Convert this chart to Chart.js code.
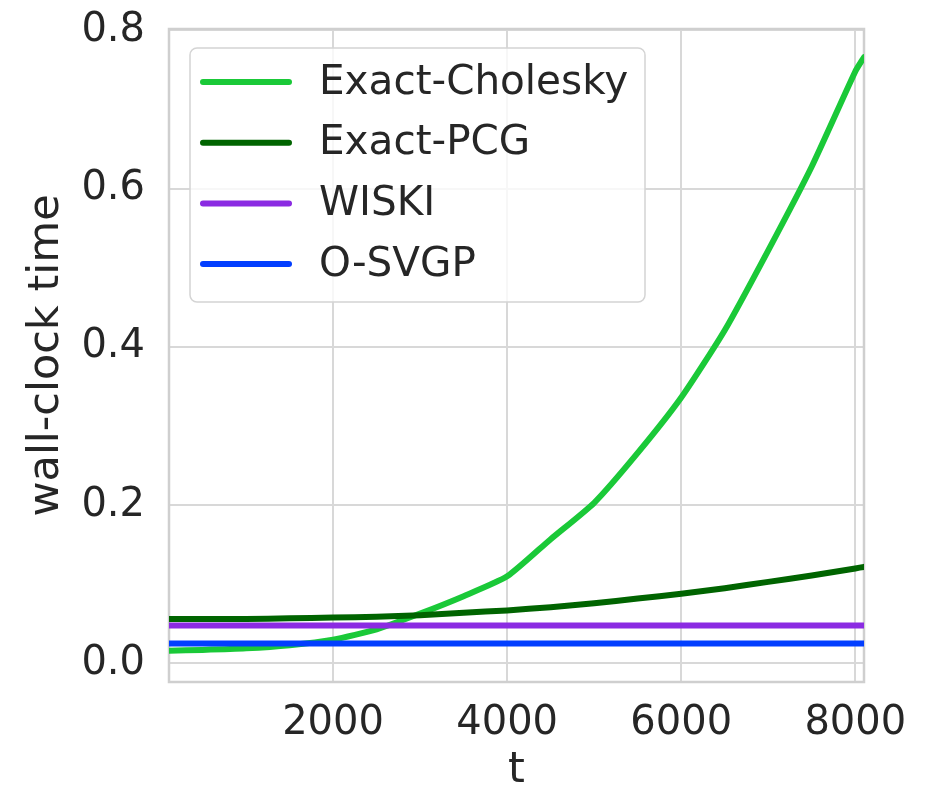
<!DOCTYPE html>
<html>
<head>
<meta charset="utf-8">
<script src="https://cdn.jsdelivr.net/npm/chart.js@4.4.1/dist/chart.umd.min.js"></script>
<style>
  body { margin: 0; background: #fff; }
  #wrap { width: 928px; height: 785px; }
</style>
</head>
<body>
<div id="wrap"><canvas id="timeChart" width="928" height="785"></canvas></div>
<script>
// time steps t
const steps = [115, 500, 1000, 1500, 2000, 2500, 3000, 3500, 4000, 4500, 5000, 5500, 6000, 6500, 7000, 7500, 8000, 8100];

// wall-clock time per method
const exactCholesky = [0.016, 0.017, 0.019, 0.023, 0.030, 0.043, 0.063, 0.085, 0.110, 0.157, 0.203, 0.266, 0.336, 0.421, 0.522, 0.628, 0.748, 0.766];
const exactPCG      = [0.056, 0.056, 0.056, 0.057, 0.058, 0.059, 0.061, 0.064, 0.067, 0.071, 0.076, 0.082, 0.088, 0.095, 0.103, 0.111, 0.120, 0.122];
const wiski         = [0.048, 0.048, 0.048, 0.048, 0.048, 0.048, 0.048, 0.048, 0.048, 0.048, 0.048, 0.048, 0.048, 0.048, 0.048, 0.048, 0.048, 0.048];
const oSvgp         = [0.025, 0.025, 0.025, 0.025, 0.025, 0.025, 0.025, 0.025, 0.025, 0.025, 0.025, 0.025, 0.025, 0.025, 0.025, 0.025, 0.025, 0.025];

const xTicks = [2000, 4000, 6000, 8000];
const yTicks = [0.0, 0.2, 0.4, 0.6, 0.8];

const seriesNames  = ['Exact-Cholesky', 'Exact-PCG', 'WISKI', 'O-SVGP'];
const seriesColors = ['#1AC938', '#006400', '#8B2BE2', '#023EFF'];
const seriesData   = [exactCholesky, exactPCG, wiski, oSvgp];

const textColor = '#262626';
const gridColor = '#d8d8d8';
const fontFamily = '"DejaVu Sans", sans-serif';

function toPoints(ys) {
  return steps.map((t, i) => ({ x: t, y: ys[i] }));
}

const datasets = seriesNames.map((name, i) => ({
  label: name,
  data: toPoints(seriesData[i]),
  borderColor: seriesColors[i],
  backgroundColor: seriesColors[i],
  borderWidth: 6,
  borderCapStyle: 'round',
  borderJoinStyle: 'round',
  pointRadius: 0,
  tension: 0.2,
  order: seriesNames.length - i   // first series sits at the bottom
}));

// frame around the plot area, like the axes spines
const framePlugin = {
  id: 'frame',
  beforeDatasetsDraw(chart) {
    const { ctx, chartArea: a } = chart;
    ctx.save();
    ctx.strokeStyle = '#cfcfcf';
    ctx.lineWidth = 2.5;
    ctx.strokeRect(a.left, a.top, a.right - a.left, a.bottom - a.top);
    ctx.restore();
  }
};

// legend box in the upper left corner of the plot
const insideLegend = {
  id: 'insideLegend',
  afterDraw(chart) {
    const { ctx, chartArea: a } = chart;
    const x0 = a.left + 21, y0 = a.top + 19;
    const w = 455, h = 254, r = 7;
    ctx.save();
    ctx.beginPath();
    ctx.roundRect(x0, y0, w, h, r);
    ctx.fillStyle = 'rgba(255,255,255,0.8)';
    ctx.fill();
    ctx.strokeStyle = '#d4d4d4';
    ctx.lineWidth = 1.5;
    ctx.stroke();
    ctx.font = '40.5px ' + fontFamily;
    ctx.textBaseline = 'middle';
    ctx.fillStyle = textColor;
    seriesNames.forEach((name, i) => {
      const y = y0 + 34 + i * 60.7;
      ctx.beginPath();
      ctx.moveTo(x0 + 13, y);
      ctx.lineTo(x0 + 99, y);
      ctx.strokeStyle = seriesColors[i];
      ctx.lineWidth = 6;
      ctx.lineCap = 'round';
      ctx.stroke();
      ctx.fillText(name, x0 + 129, y + 1);
    });
    ctx.restore();
  }
};

const ctx = document.getElementById('timeChart').getContext('2d');
const timeChart = new Chart(ctx, {
  type: 'line',
  data: { datasets: datasets },
  options: {
    responsive: false,
    animation: false,
    layout: { padding: { left: 0, right: 64, top: 29, bottom: 0 } },
    plugins: {
      legend: { display: false },
      tooltip: { enabled: false }
    },
    scales: {
      x: {
        type: 'linear',
        min: 115,
        max: 8100,
        afterBuildTicks: s => { s.ticks = xTicks.map(v => ({ value: v })); },
        afterFit: s => { s.height = 103; s.paddingLeft = 0; s.paddingRight = 0; },
        grid: { color: gridColor, lineWidth: 2, drawTicks: false },
        border: { display: false },
        ticks: {
          padding: 18,
          color: textColor,
          font: { family: fontFamily, size: 40 },
          maxRotation: 0,
          callback: v => String(v)
        },
        title: {
          display: true,
          text: 't',
          color: textColor,
          font: { family: fontFamily, size: 43 },
          padding: { top: 0, bottom: -12 }
        }
      },
      y: {
        min: -0.0235,
        max: 0.8017,
        afterBuildTicks: s => { s.ticks = yTicks.map(v => ({ value: v })); },
        afterFit: s => { s.width = 169; s.paddingTop = 0; s.paddingBottom = 0; },
        grid: { color: gridColor, lineWidth: 2, drawTicks: false },
        border: { display: false },
        ticks: {
          padding: 24,
          color: textColor,
          font: { family: fontFamily, size: 40 },
          callback: v => v.toFixed(1)
        },
        title: {
          display: true,
          text: 'wall-clock time',
          color: textColor,
          font: { family: fontFamily, size: 43 },
          padding: { top: 21, bottom: 0 }
        }
      }
    }
  },
  plugins: [framePlugin, insideLegend]
});
</script>
</body>
</html>
